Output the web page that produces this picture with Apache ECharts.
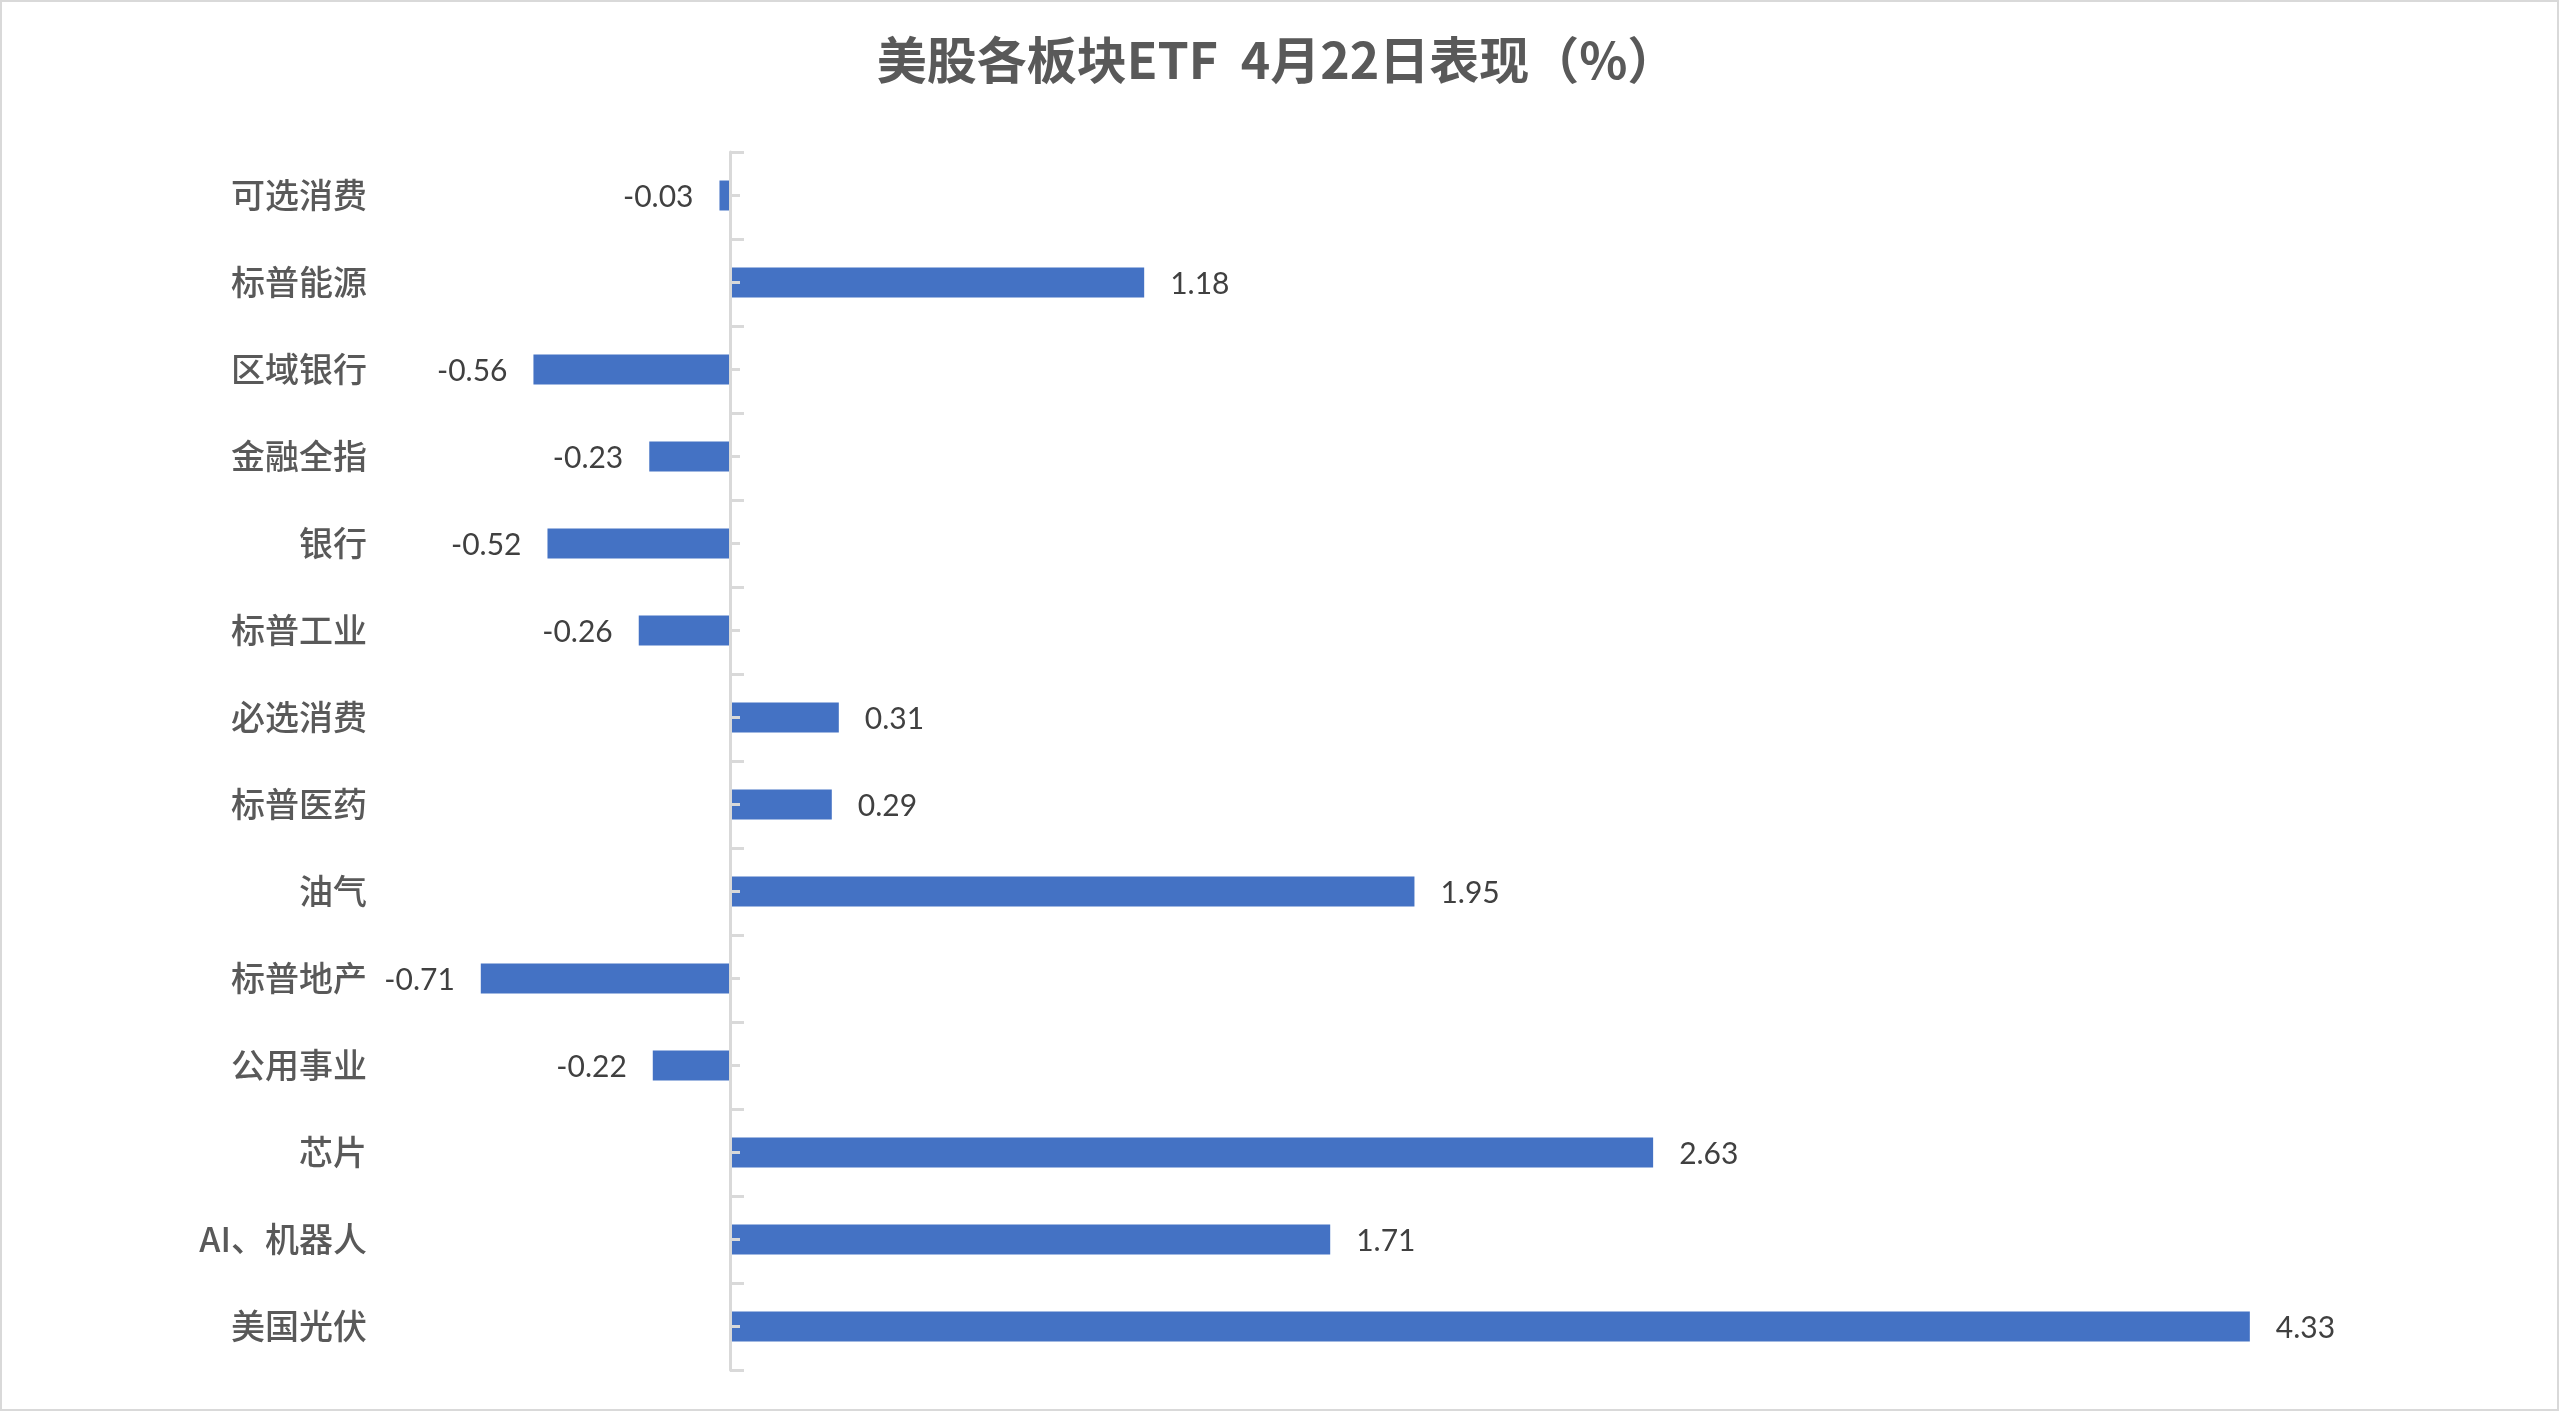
<!DOCTYPE html>
<html>
<head>
<meta charset="utf-8">
<script src="https://cdn.jsdelivr.net/npm/echarts@6/dist/echarts.min.js"></script>
<style>
html,body{margin:0;padding:0;background:#fff;}
#chart{width:2560px;height:1412px;}
</style>
</head>
<body>
<div id="chart"></div>
<script>
const titleText = '美股各板块ETF  4月22日表现（%）';
const categories = ['可选消费','标普能源','区域银行','金融全指','银行','标普工业','必选消费','标普医药','油气','标普地产','公用事业','芯片','AI、机器人','美国光伏'];
const values = [-0.03, 1.18, -0.56, -0.23, -0.52, -0.26, 0.31, 0.29, 1.95, -0.71, -0.22, 2.63, 1.71, 4.33];

const chart = echarts.init(document.getElementById('chart'));
const barData = values.map(v => ({
  value: v,
  label: { position: v < 0 ? 'left' : 'right' }
}));
const axisGray = '#d9d9d9';
chart.setOption({
  backgroundColor: '#ffffff',
  animation: false,
  title: {
    text: titleText,
    left: 1272,
    textAlign: 'center',
    top: 30,
    textStyle: { fontFamily: 'Noto Sans CJK SC', fontSize: 50, fontWeight: 'bold', color: '#595959' }
  },
  graphic: [{
    type: 'rect', silent: true,
    shape: { x: 1, y: 1, width: 2557, height: 1409 },
    style: { fill: 'none', stroke: axisGray, lineWidth: 2 }
  }],
  grid: { left: 379, right: 75, top: 152, bottom: 42, containLabel: false },
  xAxis: { type: 'value', min: -1, max: 5, show: false },
  yAxis: [
    {
      type: 'category', inverse: true, data: categories, position: 'left',
      axisLine: { show: false, onZero: false },
      axisTick: { show: false },
      axisLabel: { fontFamily: 'Noto Sans CJK SC', fontSize: 34, fontWeight: 500, color: '#595959', margin: 12 }
    },
    {
      type: 'category', inverse: true, data: categories, position: 'left', z: 5,
      axisLine: { show: true, onZero: true, onZeroAxisIndex: 0, lineStyle: { color: axisGray, width: 3 } },
      axisTick: { show: true, inside: true, length: 14, alignWithLabel: false, lineStyle: { color: axisGray, width: 3 } },
      axisLabel: { show: false }
    },
    {
      type: 'category', inverse: true, data: categories, position: 'left', z: 5,
      axisLine: { show: false, onZero: true, onZeroAxisIndex: 0 },
      axisTick: { show: true, inside: true, length: 10, alignWithLabel: true, lineStyle: { color: axisGray, width: 3 } },
      axisLabel: { show: false }
    }
  ],
  series: [{
    type: 'bar',
    yAxisIndex: 0,
    data: barData,
    barWidth: 30,
    itemStyle: { color: '#4472C4' },
    label: {
      show: true,
      distance: 26,
      offset: [0, 2],
      fontFamily: 'Lato',
      fontSize: 30,
      color: '#404040',
      formatter: p => p.value.toFixed(2)
    }
  }]
});
</script>
</body>
</html>
